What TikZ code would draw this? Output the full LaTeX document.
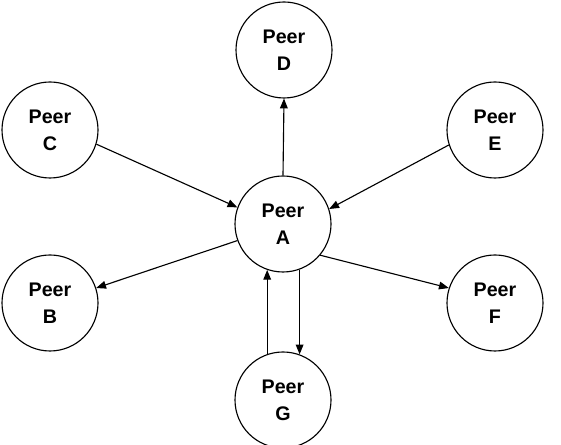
\documentclass[tikz,border=0pt]{standalone}
\usepackage{fontspec}
\setmainfont{Liberation Sans}
\usetikzlibrary{arrows.meta}
\begin{document}
\begin{tikzpicture}[
  peer/.style={draw, circle, line width=0.8pt, minimum size=2.4cm, inner sep=0pt,
    align=center, font=\fontsize{14}{19}\selectfont\bfseries},
  link/.style={line width=0.8pt, -{Triangle[length=7pt,width=5.5pt]}}]
\useasboundingbox (0,0) rectangle (14.025,11.125);
\node[peer] (A) at (7.075,5.525) {Peer\\A};
\node[peer] (B) at (1.25,3.55) {Peer\\B};
\node[peer] (C) at (1.25,7.875) {Peer\\C};
\node[peer] (D) at (7.1,9.875) {Peer\\D};
\node[peer] (E) at (12.375,7.875) {Peer\\E};
\node[peer] (F) at (12.375,3.55) {Peer\\F};
\node[peer] (G) at (7.075,1.125) {Peer\\G};
\draw[link] (C.-17) -- (A.160);
\draw[link] (E.198) -- (A.18);
\draw[link] (A.200) -- (B.18);
\draw[link] (A.-40) -- (F.162);
\draw[link] (A.90) -- (D.-90);
\draw[link] (G.109.5) -- (A.-109.5);
\draw[link] (A.-70.5) -- (G.70.5);
\end{tikzpicture}
\end{document}
